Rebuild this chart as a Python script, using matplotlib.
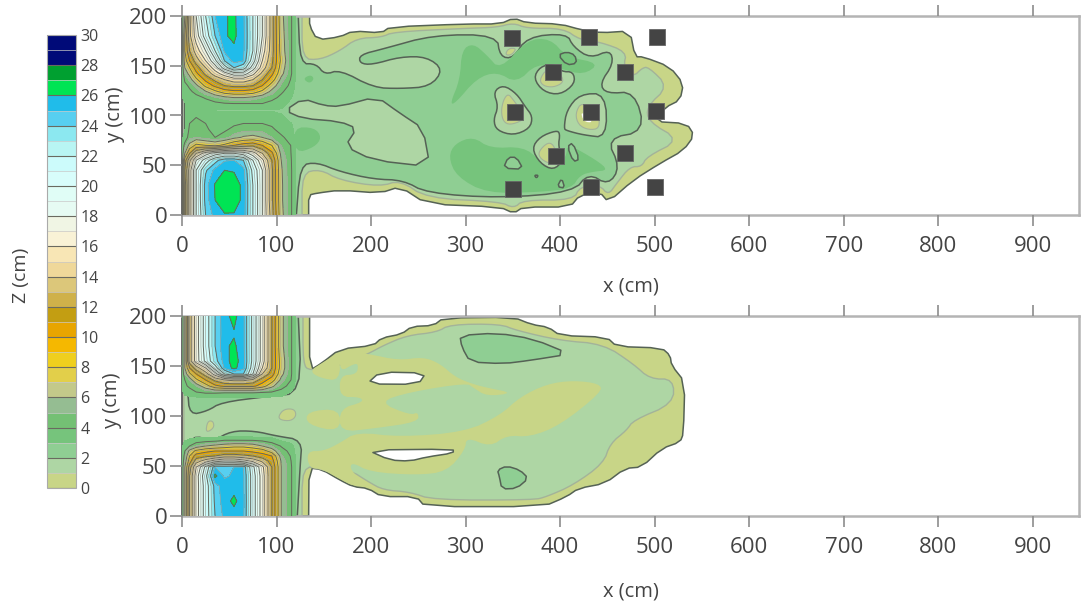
#!/usr/bin/python3
import numpy as np
import matplotlib
matplotlib.use('Agg')
import matplotlib.pyplot as plt
from matplotlib.colors import ListedColormap, BoundaryNorm
from matplotlib.cm import ScalarMappable

plt.rcParams['font.family'] = ['Open Sans', 'DejaVu Sans']
TXT = '#444444'

## Colour per 1 cm band, bottom (0-1) to top (29-30)
band_cols = ['#c8d587', '#aed6a4', '#8fce93', '#76c47c', '#74c074', '#95bd92', '#c3c98a',
             '#e2cf4a', '#efcf1e', '#f5b800', '#e8a500', '#c39e12', '#cfb14a', '#dcc77a',
             '#efd89a', '#f8e6b5', '#f9f2d6', '#f0f5e4', '#e6fbf3', '#e0fdf6', '#d8fdfb',
             '#ccfbfb', '#b8f5f3', '#8ce8f0', '#57cff0', '#20bcea', '#00e454', '#00a030',
             '#000a78', '#000a78']
levels = np.arange(0, 31)
cbar_ticks = list(range(0, 31, 2))
x_ticks = list(range(0, 1000, 100))
y_ticks = [0, 50, 100, 150, 200]

## Depth grids over the two inlet wells (cm)
well_x = [0, 3, 8, 15, 25, 35, 45, 55, 65, 75, 85, 95, 105, 116, 122]

top_y = [0, 15, 30, 45, 55, 62, 70, 78, 86, 92, 98, 105, 112, 118, 124, 130, 136, 142, 148,
         155, 165, 180, 200]
top_z = [
    [2.9, 9, 15, 20, 24, 25.4, 25.9, 25.9, 25.6, 22, 18, 13, 6.5, 4, 2.5],
    [2.9, 9, 15, 20, 24.5, 26, 26.7, 26.6, 25.7, 22, 18, 12.5, 6.3, 4, 2.5],
    [2.9, 9, 15, 20, 24.6, 26.1, 26.8, 26.6, 25.7, 22, 18, 12.5, 6.3, 4, 2.5],
    [2.9, 10, 15, 20, 23.8, 25.3, 26, 25.9, 25.4, 21.5, 18, 12.5, 6.2, 4, 2.5],
    [2.9, 9, 13.5, 18, 21, 23.5, 24.9, 25, 24, 20, 16.5, 12, 6, 3.95, 2.5],
    [2.9, 6, 10, 14, 17, 19, 20, 20, 19, 17, 14, 10.5, 5.5, 3.9, 2.5],
    [2.9, 4.5, 6.5, 8.5, 8, 7.5, 8.5, 10, 11, 11.5, 10, 8, 5, 3.9, 2.5],
    [2.9, 3.2, 4.6, 5, 4.5, 4, 4.5, 5.5, 6.2, 6.5, 6, 5, 4.2, 3.5, 2.5],
    [2.9, 2.95, 4.2, 4.6, 4.2, 3.6, 3.8, 4.3, 4.6, 4.6, 4.6, 4.2, 3.6, 3.2, 2.5],
    [2.9, 2.9, 4, 4.5, 4, 3.4, 3.6, 3.8, 4, 4, 4, 3.8, 3.3, 3, 2.5],
    [2.9, 2.9, 3.8, 4, 3.7, 3.4, 3.4, 3.4, 3.4, 3.4, 3.4, 3.4, 3.1, 2.8, 2.5],
    [2.9, 2.9, 3.5, 3.5, 3.2, 2.95, 2.9, 2.9, 2.9, 2.9, 2.9, 2.95, 2.9, 2.7, 2.5],
    [2.9, 2.9, 3.6, 3.6, 3.6, 3.7, 3.9, 4, 4, 4, 4, 3.6, 3.3, 2.8, 2.5],
    [2.9, 3.4, 3.6, 3.7, 4.1, 4.8, 5.5, 6, 6, 5.6, 5, 4.4, 3.7, 3, 2.5],
    [2.9, 3.5, 3.8, 4.3, 5.8, 7.5, 9, 9.5, 9.5, 9, 7.5, 5.5, 4.2, 3.3, 2.5],
    [2.9, 3.7, 4.2, 5.5, 8.5, 10.5, 12, 12.5, 12.5, 12, 10, 7, 4.8, 3.6, 2.5],
    [2.9, 4.2, 5.2, 7.5, 10.5, 12.5, 14, 15, 15, 14, 12, 9, 5.5, 3.8, 2.5],
    [2.9, 5, 6.5, 9.5, 12.5, 15, 17, 19, 19, 16.5, 13.5, 10.5, 6.5, 4, 2.5],
    [2.9, 6, 8, 11, 14, 17, 21, 24, 23, 19, 15, 12, 7, 4, 2.5],
    [2.9, 7, 10, 13, 16, 19.5, 24, 25.4, 25, 21, 16, 12.5, 7.5, 4, 2.5],
    [2.9, 8, 12, 15, 18, 22, 25.2, 25.8, 25.2, 22, 17, 13, 7, 4, 2.5],
    [2.9, 8, 13.5, 17, 21, 24, 25.9, 26.2, 25.3, 22, 18, 13, 6.8, 4, 2.5],
    [2.9, 6, 13, 18, 22, 25, 25.9, 26.2, 25.2, 22, 18, 13, 6.5, 4, 2.5],
]

bot_y = [0, 15, 30, 40, 49, 55, 60, 65, 70, 75, 80, 90, 105, 118, 124, 130, 136, 142, 148,
         155, 170, 182, 200]
bot_z = [
    [2.9, 6, 12, 17, 21, 24, 25.3, 25.5, 25.2, 21, 17, 12, 6, 4, 2.5],
    [2.9, 6, 12, 17, 21, 24.3, 25.5, 26.3, 25.3, 21, 17, 12, 6, 4, 2.5],
    [2.9, 6, 12, 17, 21, 24.5, 25.6, 25.5, 25.2, 21, 17, 12, 6, 4, 2.5],
    [2.9, 6, 12, 17, 21.5, 26.3, 24.8, 25.2, 25.2, 21, 17, 12, 6, 4, 2.5],
    [2.9, 6, 11, 16, 20.5, 25, 24.8, 25, 25, 20.5, 16.5, 12, 6, 4, 2.5],
    [2.9, 5, 9, 13, 15, 17, 18, 18, 17, 15.5, 13.5, 11, 5.8, 3.9, 2.5],
    [2.9, 4.5, 8, 11, 11.5, 12, 13, 13, 12.5, 12, 11, 10, 5.2, 3.8, 2.5],
    [2.9, 4, 6.5, 8.5, 9.5, 10, 10, 10, 10, 9.5, 9, 7, 4.5, 3.6, 2.5],
    [2.9, 3.5, 4, 5, 6, 6.5, 7, 7.5, 7.5, 7, 6, 5, 3.9, 3.2, 2.5],
    [2.9, 3, 3.2, 3.5, 3.7, 3.9, 4.2, 4.2, 4.2, 4.2, 4, 3.5, 3, 2.8, 2.5],
    [2.6, 2.7, 2.7, 2.7, 2.7, 2.7, 2.9, 2.9, 2.8, 2.7, 2.7, 2.7, 2.7, 2.7, 2.5],
    [1.5, 1.5, 1.5, 1.5, 1.5, 1.5, 1.5, 1.5, 1.5, 1.5, 1.5, 1.5, 1.5, 1.5, 1.5],
    [1.5, 1.5, 1.5, 1.5, 1.5, 1.5, 1.5, 1.5, 1.5, 1.5, 1.5, 1.5, 1.5, 1.5, 1.5],
    [2.8, 2.8, 2.8, 2.8, 2.8, 2.8, 2.8, 2.8, 2.8, 2.8, 2.8, 2.8, 2.8, 2.8, 2.5],
    [2.9, 3.2, 3.6, 4, 4.3, 4.3, 4.2, 4.2, 4.2, 4.2, 4.1, 4, 3.6, 2.9, 2.5],
    [2.9, 3.8, 4.2, 5, 7, 9.5, 10.5, 10.5, 10.5, 10.5, 9, 6.5, 4.5, 3.5, 2.5],
    [2.9, 4, 5, 7.5, 10, 12.5, 14, 14.5, 14.5, 13.5, 11, 9, 5.5, 3.9, 2.5],
    [2.9, 5, 7.5, 10, 13, 17, 22, 24, 24, 20, 14, 11, 6.5, 4, 2.5],
    [2.9, 6, 10, 13, 16, 21, 25.2, 26.3, 25.3, 21, 16, 12, 7, 4, 2.5],
    [2.9, 6, 13, 17, 20.5, 23.5, 25.5, 26.5, 25.4, 21.5, 17, 12, 7, 4, 2.5],
    [2.9, 6, 13, 17, 21, 24, 25.8, 26.2, 25.3, 21.5, 17, 12, 6.5, 4, 2.5],
    [2.9, 6, 13, 17, 21, 24, 25.6, 25.9, 25.3, 21.5, 17, 12, 6.5, 4, 2.5],
    [2.9, 6, 13, 17, 21, 24, 25.7, 26.3, 25.3, 21.5, 17, 12, 6.5, 4, 2.5],
]

## Top panel contour outlines (x, y in cm)
top_lvl0 = [(0, 0), (134, 0), (134, 20), (143, 22), (167, 25), (209.5, 22), (230.7, 28.5), (259, 11),
            (336.5, 8), (351, 1.7), (361, 8), (410.5, 8), (421, 20), (442, 23), (451, 13), (477.5, 35),
            (506, 52), (530.5, 65), (542, 80), (534, 92), (499, 94), (511, 108), (527, 115.6),
            (530.5, 132), (516, 149), (488, 159), (479.3, 159), (474, 185), (442, 183), (423, 186),
            (400, 192), (365, 193), (351, 198), (336.5, 192), (299.5, 192), (220, 189), (211, 183),
            (181, 185), (167, 179), (143, 176), (135, 190), (135, 200), (0, 200)]
top_lvl1 = [(1.5, 0), (127, 0), (127, 42), (146, 46), (167, 35), (209.5, 28.5), (230.7, 35), (259, 16.8),
            (336.5, 13.4), (351, 6.7), (361, 15), (414, 15), (421, 28.5), (442, 30), (451, 20), (460, 32),
            (474, 48.6), (486.4, 48.6), (491.7, 58.6), (527, 75.4), (493.4, 93.8), (491.7, 109),
            (514.6, 129), (493.4, 149), (486.4, 147.4), (477.6, 139), (467, 149), (470.5, 164),
            (442, 174), (421, 176), (403.5, 187.6), (364.7, 187.6), (350.6, 193), (333, 188.6),
            (299.5, 187.6), (223.6, 184), (211, 178.6), (185, 177.6), (167, 165), (146, 156),
            (127, 157), (127, 200), (1.5, 200)]
top_lvl2 = [(123, 200), (125, 152), (142, 152), (151, 141), (167, 146), (202.5, 128), (230.7, 127),
            (262.4, 129), (276.5, 146), (259, 159), (231, 159), (201, 151), (188, 152.5), (188, 161),
            (213, 167), (266, 181), (333, 181), (336.5, 159), (350.6, 157.5), (365, 179), (407, 182.6),
            (414, 169), (432, 157.5), (453, 166), (456.4, 152), (442, 132), (449, 122), (479, 124),
            (490, 84), (449, 77), (463.5, 48), (451, 30), (430, 42), (414, 23), (336.5, 17), (259, 22),
            (234, 35), (202.5, 36), (167, 43.6), (142.5, 53), (125, 50), (121, 0), (3, 0), (3, 200)]
top_lvl3_a = [(283.6, 112), (294, 135.7), (296, 165.9), (308, 172.6), (322.4, 160.8), (336.5, 145.8),
              (364.7, 175.9), (389.4, 177.6), (407, 159), (442, 152.4), (424.7, 140.7), (400, 147.4),
              (375.3, 152.4), (354, 132.4), (333, 144), (311.8, 137.4), (288.9, 112)]
top_lvl3_b = [(281.8, 58.6), (289, 72), (308, 78.7), (326, 67), (361, 68.7), (378.8, 55), (393, 43.6),
              (407, 58.6), (407, 72), (438.8, 55), (451, 45), (435, 43.6), (421, 40), (412.3, 26.8),
              (378.8, 23), (322.4, 21.8), (290.6, 38.5)]
top_lvl3_c = [(118, 88), (140, 88), (148, 78), (140, 68), (120, 62)]
top_lvl3_d = [(128, 137), (136, 141), (140, 137), (135, 132)]
top_isl = [(109, 105), (128, 117), (150, 110), (167, 109), (206, 119), (231, 102), (255, 87), (262.4, 48.6),
           (202.5, 55), (172.5, 69), (185, 87), (167, 94), (128, 97)]
top_h1 = [(371.8, 137.4), (378.8, 149), (393, 152), (401.7, 144), (414, 144), (415.8, 132), (400, 120.6),
          (382.3, 124)]
top_h2 = [(329.4, 124), (340, 130.7), (354, 122), (363, 109), (371, 99), (368, 87), (350.6, 80), (333, 85),
          (329.4, 95.5), (334.7, 109)]
top_h3 = [(407, 105.5), (421, 121.6), (448.3, 122), (449.4, 77.7), (424.7, 80.4), (407, 84.8), (404, 87)]
top_h4 = [(370, 67), (378.8, 78.7), (396, 85), (400, 82), (398, 68.7), (403.5, 55), (393, 45), (378.8, 52)]
top_p1 = [(378, 135.7), (386, 147.4), (401.7, 140.7), (403.5, 133), (393, 128.3), (382.3, 129.7)]
top_p2 = [(340, 115.6), (345, 122), (350.6, 115.6), (361, 102), (360.5, 95), (347, 90.5), (340, 93.8),
          (337.6, 103.9)]
top_p3 = [(416, 102), (423, 114), (440.5, 102), (442, 87), (430, 85.5), (419.4, 90.5)]
top_p4 = [(377, 63.7), (387.6, 73.7), (394.7, 68.7), (396.5, 52), (387.6, 52), (378.8, 57)]
top_p5 = [(341.8, 160.8), (345.3, 167.5), (354, 167.5), (348.8, 160.8)]
top_white = [(421.5, 105), (436, 93), (425, 93.5)]
top_s1 = [(398, 160.8), (407, 164), (415.8, 160.8), (417.6, 152.4), (407, 150.8)]
top_s2 = [(340, 47), (345, 58), (354, 58), (361, 46)]
top_s3 = [(407.7, 68.7), (413.4, 72.7), (420.5, 56), (414, 53.6)]
top_s4 = [(372.8, 40), (377, 40), (375, 37)]
top_s5 = [(397, 28.5), (401.7, 37), (405, 27)]

## Gauge positions in the top panel (cm)
mark_x = [349.6, 430.7, 503, 393, 469, 352.4, 432.4, 501, 395.8, 469, 350.6, 432.4, 500.5]
mark_y = [177.5, 178.6, 178.6, 144, 144, 103.8, 103.8, 104.5, 59.3, 62.6, 26, 28.4, 28.4]

## Bottom panel contour outlines (x, y in cm)
bot_lvl0 = [(0, 0), (134, 0), (134.4, 48), (148, 46.5), (167, 36), (181, 29.3), (197, 27.6), (211, 19.4),
            (248, 19.4), (257, 9.4), (382.3, 9.4), (407, 19.4), (419.4, 27.6), (447.6, 32.6),
            (468.8, 47.6), (486.4, 49), (507.6, 67.5), (527, 74), (530.5, 82.5), (532, 134),
            (518, 150.6), (516.4, 160.6), (507.6, 168), (460, 169.5), (449.4, 178.8), (400, 180.5),
            (387.6, 188.8), (370, 191.5), (350.6, 198.8), (276.5, 198), (266, 190.5), (243, 189.5),
            (232.4, 182), (211, 178), (202.5, 170.5), (167, 167), (148, 153), (135, 145.5), (135, 200),
            (0, 200)]
bot_lvl1 = [(2, 0), (127, 0), (127, 50), (148, 47), (167, 40), (177.8, 46), (197, 34.3), (213, 26),
            (241, 24), (266, 16), (371.8, 16), (386, 19.4), (414, 31), (445.8, 52.6), (453, 72.5),
            (470.5, 85.8), (477.6, 95.8), (520, 112.4), (520, 137), (495, 137), (477.6, 152),
            (445.8, 172), (400, 175.5), (354, 185.5), (336.5, 192), (283.6, 191.5), (269.5, 183.8),
            (238, 180.5), (213, 170.5), (197, 162.2), (167, 150), (135, 145), (128, 152), (128, 200),
            (2, 200)]
bot_lvl2_low = [(3, 0), (122, 0), (125, 50), (127, 76), (100, 80), (77, 85), (52, 85), (33, 75), (10, 81),
                (6, 60), (3, 55)]
bot_lvl2_up = [(123, 200), (126.6, 123), (91, 119.6), (41.5, 113.6), (27, 105), (8, 101), (6, 126), (3, 135),
               (3, 200)]
bot_y_a = [(167, 165.6), (197, 162.2), (229, 155.6), (255.4, 159), (273, 152.3), (289, 139), (306.5, 132.3),
           (322.4, 128.3), (350.6, 123), (322.4, 119.7), (308.3, 128.3), (301, 133), (241, 124),
           (207.8, 114), (241.3, 100.8), (250, 104), (250, 94), (202.5, 87.5), (167, 84), (167, 107.4),
           (192, 114), (188.4, 119), (167, 119), (167, 140.6), (185, 141.6), (186.6, 152), (181.3, 152),
           (167, 144)]
bot_y_b = [(135, 145), (146, 138), (167, 135), (167, 164), (148, 153)]
bot_y_c = [(132, 91.4), (132, 104.6), (167, 107.4), (167, 84)]
bot_y_d = [(167, 73), (185, 84), (230.7, 79), (299.5, 84), (336.5, 100.7), (357.6, 119), (386, 132),
           (414, 135.6), (442, 132.3), (444, 124), (400, 90.8), (368, 79), (343.5, 80.8), (326, 69),
           (301, 79), (299.5, 65.9), (280, 44.3), (248, 40.9), (199, 44), (179.5, 54), (177.8, 46),
           (197, 30), (181, 30), (167, 37), (148, 47), (134.4, 48), (132, 64.8), (150, 65)]
bot_y_e = [(25, 83), (34, 88), (33, 95), (27, 95)]
bot_y_f = [(102, 100), (108, 107), (119, 107), (121, 100), (115, 95), (104, 96)]
bot_hole1 = [(195.4, 132), (209.5, 144), (258, 143), (250, 131.7)]
bot_hole2 = [(196, 66), (287, 66.9), (287, 63), (259, 59), (241, 54.9), (220, 55.9)]
bot_s1 = [(294, 180.5), (333, 183), (371.8, 177), (410.5, 162), (368, 155.6), (340, 152.3), (304.8, 154),
          (296, 169)]
bot_s2 = [(333.7, 45.9), (343.5, 50), (357.6, 45.9), (366.5, 37.6), (354, 27.6), (338.3, 27), (335.8, 39.3)]

DARK = '#556255'
GREY = '#a3b39a'


def soften(pts, rounds=2, cut=0.25):
    # corner cutting so hand read outlines look like contours, frame corners stay put
    for _ in range(rounds):
        out = []
        n = len(pts)
        for i in range(n):
            p, q, r = np.array(pts[i-1]), np.array(pts[(i+1) % n]), np.array(pts[i])
            if r[0] <= 3.5 or r[1] <= 0 or r[1] >= 200:
                out.append(tuple(r))
            else:
                out.append(tuple(r + cut*(p-r)))
                out.append(tuple(r + cut*(q-r)))
        pts = out
    return pts


def region(ax, pts, col, edge=None, lw=1.1, rounds=2):
    xs, ys = zip(*soften(pts, rounds))
    ax.fill(xs, ys, facecolor=col, edgecolor=edge if edge else 'none', linewidth=lw if edge else 0,
            joinstyle='round')


def wells(ax, y, z):
    cm = ListedColormap(band_cols[3:])
    ax.contourf(well_x, y, z, levels=levels[3:], cmap=cm, norm=BoundaryNorm(levels[3:], len(band_cols) - 3),
                zorder=3)
    ax.contour(well_x, y, z, levels=np.arange(5, 30, 2), colors='#a5a59c', linewidths=0.5, zorder=4)
    ax.contour(well_x, y, z, levels=np.arange(4, 29, 2), colors='#66665c', linewidths=0.7, zorder=4)


def style(ax, pad):
    ax.set_xlim(0, 949)
    ax.set_ylim(0, 200)
    ax.set_xticks(x_ticks)
    ax.set_yticks(y_ticks)
    ax.tick_params(axis='x', which='both', top=True, bottom=True, length=8, width=1.2, color='#8c8c8c',
                   labelsize=16, labelcolor=TXT, pad=7)
    ax.tick_params(axis='y', length=8.5, width=1.2, color='#8c8c8c', labelsize=16, labelcolor=TXT, pad=2)
    for side in ['top', 'bottom', 'right']:
        ax.spines[side].set_color('#b4b4b4')
        ax.spines[side].set_linewidth(1.8)
    ax.spines['left'].set_color('#666666')
    ax.spines['left'].set_linewidth(1.4)
    ax.set_xlabel('x (cm)', fontsize=14.5, color=TXT, labelpad=pad)
    ax.set_axisbelow(False)


W, H = 1085, 602
fig = plt.figure(figsize=(W/100, H/100), dpi=100)
ax1 = fig.add_axes([182/W, (H-215)/H, 897/W, 199/H])
ax2 = fig.add_axes([182/W, (H-516)/H, 897/W, 200/H])

## Top panel
region(ax1, top_lvl0, band_cols[0], DARK, rounds=1)
region(ax1, top_lvl1, band_cols[1], GREY, 1)
region(ax1, top_lvl2, band_cols[2], DARK)
for p in [top_lvl3_a, top_lvl3_b, top_lvl3_c, top_lvl3_d]:
    region(ax1, p, band_cols[3])
for p in [top_h1, top_h2, top_h3, top_h4]:
    region(ax1, p, band_cols[1], DARK)
region(ax1, top_isl, band_cols[1], DARK, rounds=1)
for p in [top_p1, top_p2, top_p3, top_p4, top_p5]:
    region(ax1, p, band_cols[0], GREY, 0.8)
region(ax1, top_white, 'white')
region(ax1, top_s1, band_cols[3], DARK, rounds=1)
for p in [top_s2, top_s3, top_s4, top_s5]:
    region(ax1, p, band_cols[2], DARK, rounds=1)
wells(ax1, top_y, top_z)
ax1.scatter(mark_x, mark_y, marker='s', s=120, c='#444444', edgecolors='#666666', linewidths=0.6, zorder=6)
style(ax1, 14)
ax1.set_ylabel('y (cm)', fontsize=14.5, color=TXT)
ax1.yaxis.set_label_coords((125-182)/897, 0.507)

## Bottom panel
region(ax2, bot_lvl0, band_cols[0], DARK, rounds=1)
region(ax2, bot_lvl1, band_cols[1], GREY, 1)
for p in [bot_y_a, bot_y_b, bot_y_c, bot_y_d]:
    region(ax2, p, band_cols[0])
for p in [bot_y_e, bot_y_f]:
    region(ax2, p, band_cols[0], GREY, 0.8)
region(ax2, bot_lvl2_low, band_cols[2], DARK)
region(ax2, bot_lvl2_up, band_cols[2], DARK)
for p in [bot_s1, bot_s2]:
    region(ax2, p, band_cols[2], DARK, rounds=1)
for p in [bot_hole1, bot_hole2]:
    region(ax2, p, 'white', DARK, rounds=1)
wells(ax2, bot_y, bot_z)
style(ax2, 17)
ax2.set_ylabel('y (cm)', fontsize=14.5, color=TXT)
ax2.yaxis.set_label_coords((122-182)/897, 0.58)

## Colour scale
cax = fig.add_axes([47/W, (H-488)/H, 29/W, 453/H])
cmap = ListedColormap(band_cols)
norm = BoundaryNorm(levels, len(band_cols))
cb = fig.colorbar(ScalarMappable(norm=norm, cmap=cmap), cax=cax, ticks=cbar_ticks, spacing='proportional')
cb.ax.minorticks_off()
cb.ax.tick_params(length=0, labelsize=11.5, labelcolor=TXT, pad=3)
cb.outline.set_edgecolor('#aaaaaa')
cb.ax.hlines(levels[1::2], 0, 1, colors='#c8c8c8', linewidth=0.5, transform=cb.ax.get_yaxis_transform())
cb.ax.hlines(levels[::2], 0, 1, colors='#6a6a60', linewidth=0.8, transform=cb.ax.get_yaxis_transform())
fig.text(21/W, 1-275/H, 'Z (cm)', rotation=90, ha='center', va='center', fontsize=14, color=TXT)

plt.savefig('out.png', dpi=100)
